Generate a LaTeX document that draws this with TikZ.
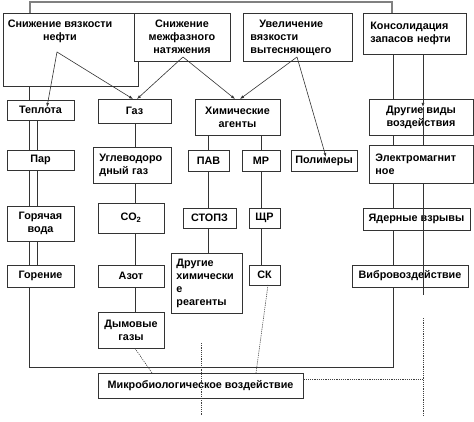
\documentclass[tikz,border=0pt]{standalone}
\usepackage{fontspec}
\setmainfont{Liberation Sans}
\usetikzlibrary{arrows.meta}
\begin{document}
\begin{tikzpicture}[x=1pt,y=-1pt,
  box/.style={draw=black!80, line width=0.8pt, fill=white, inner sep=0pt,
    font=\fontsize{10.8}{13}\selectfont\bfseries, align=center},
  lbox/.style={box, align=left},
  txt/.style={inner sep=0pt, font=\fontsize{10.8}{13}\selectfont\bfseries, align=center},
  ln/.style={draw=black!80, line width=0.6pt},
  arr/.style={ln, -{Latex[length=4pt,width=3pt]}},
  dsh/.style={draw=black!75, line width=0.6pt, dash pattern=on 1.2pt off 1pt},
  bar/.style={draw=black!50, line width=2pt}]
\useasboundingbox (0,0) rectangle (474,422);

% column coordinates
\coordinate (xL) at (29,0);
\coordinate (xL2) at (37,0);
\coordinate (xM) at (135,0);
\coordinate (xP) at (208,0);
\coordinate (xR) at (261,0);
\coordinate (xE) at (393,0);
\coordinate (xE2) at (423,0);
\coordinate (fr) at (0,367);
\coordinate (tb1) at (30,2);
\coordinate (tb2) at (392,2);
\coordinate (s1) at (57,52);
\coordinate (s2) at (183,57);
\coordinate (s3) at (297,57);
\coordinate (t1) at (47,107);
\coordinate (t2) at (133,99);
\coordinate (t3) at (137,99);
\coordinate (t4) at (235,99);
\coordinate (t5) at (240,99);
\coordinate (t6) at (326,157);
\coordinate (ae) at (423,107);
\coordinate (ae2) at (423,295);
\coordinate (m1) at (152,373);
\coordinate (sk1) at (268,285);
\coordinate (m2) at (256,373);
\coordinate (d1) at (201,343);
\coordinate (d2) at (201,415);
\coordinate (d3) at (423,379);
\coordinate (d4) at (423,318);
\coordinate (d5) at (423,417);

% top boxes
\node[box, anchor=north west, minimum width=135pt, minimum height=73pt] (b1) at (3,13) {};
\node[txt] (b1t) at (60,31) {Снижение вязкости\\нефти};
\node[box, minimum width=96pt, minimum height=48pt] (b2) at (182,37) {Снижение\\межфазного\\натяжения};
\node[lbox, anchor=north west, minimum height=48pt, text width=95pt, inner xsep=7pt] (b3) at (243,13) {\hspace*{9pt}Увеличение\\вязкости\\вытесняющего};
\node[lbox, anchor=north west, minimum height=41pt, text width=89pt, inner xsep=7pt] (b4) at (363,13) {Консолидация\\запасов нефти};

% top bar
\draw[bar] (tb1 |- b1.north) -- (tb1) -- (tb2) -- (tb2 |- b4.north);

% nodes positions (centres)
\path
  (40.5,110) node[box, minimum width=67pt, minimum height=20pt] (teplota) {Теплота}
  (134.5,111) node[box, minimum width=73pt, minimum height=24pt] (gaz) {Газ}
  (237.5,117) node[box, minimum width=85pt, minimum height=36pt] (chem) {Химические\\агенты}
  (421,117) node[box, minimum width=104pt, minimum height=36pt] (other) {Другие виды\\воздействия}
  (40.5,160) node[box, minimum width=67pt, minimum height=20pt] (par) {Пар}
  (208.5,160.5) node[box, minimum width=41pt, minimum height=21pt] (pav) {ПАВ}
  (261,160.5) node[box, minimum width=38pt, minimum height=21pt] (mr) {МР}
  (324,160.5) node[box, minimum width=66pt, minimum height=21pt] (polym) {Полимеры}
  (40.5,223.5) node[box, minimum width=67pt, minimum height=35pt] (hot) {Горячая\\вода}
  (131,218) node[box, minimum width=66pt, minimum height=30pt] (co2) {CO\textsubscript{2}}
  (209.5,218) node[box, minimum width=53pt, minimum height=20pt] (stopz) {СТОПЗ}
  (264.5,218) node[box, minimum width=31pt, minimum height=20pt] (shr) {ЩР}
  (416.5,219) node[box, minimum width=107pt, minimum height=22pt] (nuc) {Ядерные взрывы}
  (40.5,276) node[box, minimum width=67pt, minimum height=22pt] (gor) {Горение}
  (131,276) node[box, minimum width=66pt, minimum height=22pt] (azot) {Азот}
  (264.5,275) node[box, minimum width=31pt, minimum height=20pt] (sk) {СК}
  (410,276) node[box, minimum width=116pt, minimum height=22pt] (vib) {Вибровоздействие}
  (131,330) node[box, minimum width=66pt, minimum height=36pt] (dym) {Дымовые\\газы}
  (200.5,385.5) node[box, minimum width=205pt, minimum height=25pt] (micro) {Микробиологическое воздействие};
\node[lbox, anchor=north west, minimum height=36pt, text width=66pt, inner xsep=6pt] (uglev) at (93,147) {Углеводоро\\дный газ};
\node[lbox, anchor=north west, minimum height=60pt, text width=61pt, inner xsep=5pt] (dr) at (171,253) {Другие\\химически\\е\\реагенты};
\node[lbox, anchor=north west, minimum height=38pt, text width=92pt, inner xsep=6pt] (elec) at (369,145) {Электромагнит\\ное};

% connectors behind boxes
\draw[ln] (b1.south -| xL) -- (teplota.north -| xL);
\draw[ln] (teplota.south -| xL) -- (par.north -| xL);
\draw[ln] (par.south -| xL) -- (hot.north -| xL);
\draw[ln] (hot.south -| xL) -- (gor.north -| xL);
\draw[ln] (gor.south -| xL) -- (xL |- fr) -- (xE |- fr) -- (vib.south -| xE);
\draw[ln] (teplota.south -| xL2) -- (par.north -| xL2);
\draw[ln] (par.south -| xL2) -- (hot.north -| xL2);
\draw[ln] (hot.south -| xL2) -- (gor.north -| xL2);

\draw[ln] (gaz.south -| xM) -- (uglev.north -| xM);
\draw[ln] (uglev.south -| xM) -- (co2.north -| xM);
\draw[ln] (co2.south -| xM) -- (azot.north -| xM);
\draw[ln] (azot.south -| xM) -- (dym.north -| xM);

\draw[ln] (chem.south -| xP) -- (pav.north -| xP);
\draw[ln] (pav.south -| xP) -- (stopz.north -| xP);
\draw[ln] (stopz.south -| xP) -- (dr.north -| xP);
\draw[ln] (chem.south -| xR) -- (mr.north -| xR);
\draw[ln] (mr.south -| xR) -- (shr.north -| xR);
\draw[ln] (shr.south -| xR) -- (sk.north -| xR);

\draw[ln] (b4.south -| xE) -- (other.north -| xE);
\draw[ln] (other.south -| xE) -- (elec.north -| xE);
\draw[ln] (elec.south -| xE) -- (nuc.north -| xE);
\draw[ln] (nuc.south -| xE) -- (vib.north -| xE);

% arrows from the effects
\draw[arr] (s1) -- (t2);
\draw[arr] (s2) -- (t3);
\draw[arr] (s2) -- (t4);
\draw[arr] (s3) -- (t5);

% right column line over boxes
\draw[arr] (b4.south -| xE2) -- (ae);
\draw[ln] (ae) -- (elec.north -| xE2);
\draw[ln] (elec.south -| xE2) -- (ae2);
\draw[arr] (s1) -- (t1);
\draw[arr] (s3) -- (t6);

% dashed connectors
\draw[dsh] (dym.south -| xM) -- (m1);
\draw[dsh] (sk1) -- (m2);
\draw[dsh] (d1) -- (d2);
\draw[dsh] (micro.east |- d3) -- (d3);
\draw[dsh] (d4) -- (d5);
\end{tikzpicture}
\end{document}
